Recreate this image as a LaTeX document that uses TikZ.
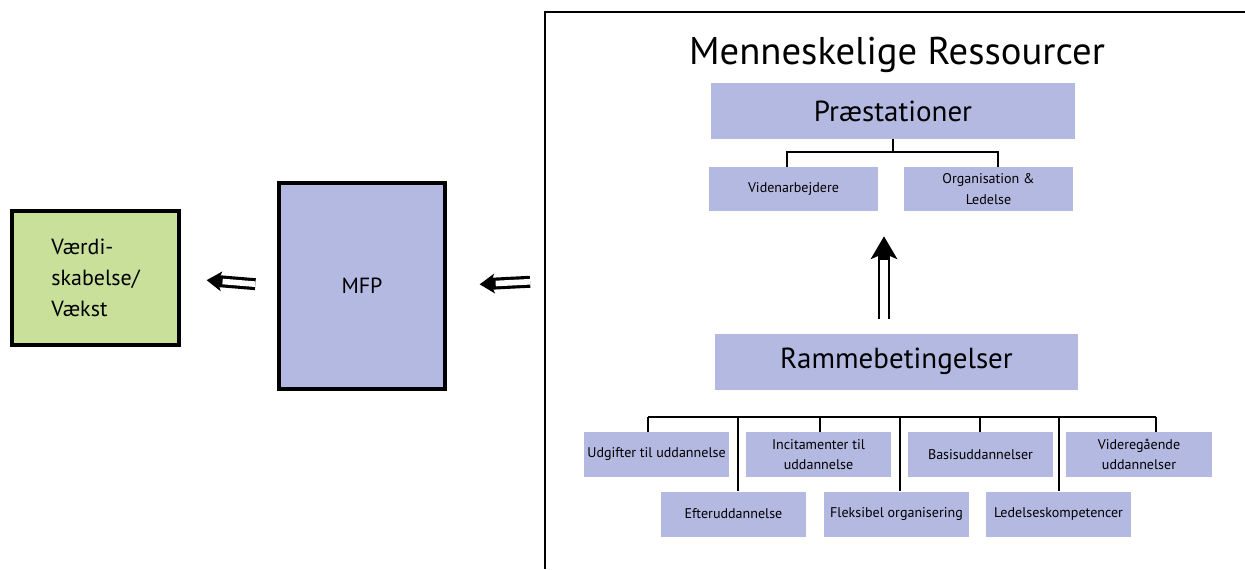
\documentclass[tikz,border=0pt]{standalone}
\usepackage{fontspec}
\setmainfont{PT Sans}
\usetikzlibrary{arrows.meta,positioning,calc}
\definecolor{boxblue}{RGB}{180,185,226}
\definecolor{boxgreen}{RGB}{201,224,155}

\begin{document}
\begin{tikzpicture}[
    x=0.02cm, y=-0.02cm,
    bigbox/.style={rectangle, draw=black, line width=2pt, minimum width=3.34cm, align=center, font=\fontsize{12.5}{17.5}\selectfont},
    topbox/.style={rectangle, fill=boxblue, minimum width=7.28cm, minimum height=1.12cm, font=\fontsize{16.5}{20}\selectfont},
    subbox/.style={rectangle, fill=boxblue, minimum width=3.38cm, minimum height=0.88cm, align=center, font=\fontsize{8}{11.5}\selectfont},
    leaf/.style={rectangle, fill=boxblue, minimum width=2.92cm, minimum height=0.9cm, inner sep=1pt, align=center, font=\fontsize{8}{11.5}\selectfont},
    tree/.style={line width=1.2pt},
    frame/.style={line width=1.4pt},
    % double arrows: a thick black line with tip, then a white core over it
    dblarrow/.style={line width=6.8pt, -{Stealth[length=0.3cm, width=0.4cm, inset=0.08cm, line width=0pt]}},
    dblcore/.style={white, line width=3.2pt},
    uparrow/.style={line width=6.8pt, -{Stealth[length=0.46cm, width=0.54cm, inset=0.12cm, line width=0pt]}},
    upcore/.style={white, line width=4.5pt}
]
    \useasboundingbox (0,0) rectangle (1245,569);

    % Left part
    \node[bigbox, fill=boxgreen, minimum width=3.34cm, minimum height=2.68cm, align=left] (vaekst) at (95.5,278) {Værdi-\\skabelse/\\Vækst};
    \node[bigbox, fill=boxblue, minimum width=3.32cm, minimum height=4.12cm] (mfp) at (362,286) {MFP};

    % Frame round the resources
    \draw[frame] (545,569) -- (545,12) -- (1245,12);
    \coordinate (frameL) at (545,281);

    \draw[dblarrow, shorten <=0.3cm, shorten >=0.66cm] (frameL) -- (mfp.east);
    \draw[dblcore, shorten <=0.3cm, shorten >=0.98cm] (frameL) -- (mfp.east);
    \draw[dblarrow, shorten <=0.44cm, shorten >=0.52cm] (mfp.west) -- (vaekst.east);
    \draw[dblcore, shorten <=0.44cm, shorten >=0.84cm] (mfp.west) -- (vaekst.east);

    % Menneskelige Ressourcer
    \node[font=\fontsize{22}{26}\selectfont] (title) at (897,55) {Menneskelige Ressourcer};
    \node[topbox] (praest) at (893,111) {Præstationer};
    \node[subbox] (viden) at (793.5,189) {Videnarbejdere};
    \node[subbox] (org) at (988.5,189) {Organisation \&\\Ledelse};

    \coordinate (pl) at (787,152);
    \coordinate (pr) at (998,152);
    \draw[tree] (praest.south) -- (praest.south |- pl);
    \draw[tree] (viden.north -| pl) -- (pl) -- (pr) -- (org.north -| pr);

    % Rammebetingelser
    \node[topbox] (ramme) at (896.5,361.5) {Rammebetingelser};
    \draw[uparrow, shorten <=0.28cm, shorten >=0.5cm] ([xshift=-0.25cm]ramme.north) -- ([xshift=-0.25cm]ramme.north |- viden.south);
    \draw[upcore, shorten <=0.28cm, shorten >=0.98cm] ([xshift=-0.25cm]ramme.north) -- ([xshift=-0.25cm]ramme.north |- viden.south);

    \node[leaf] (udg) at (656.5,454.5) {Udgifter til uddannelse};
    \node[leaf] (incit) at (818.5,454.5) {Incitamenter til\\uddannelse};
    \node[leaf] (basis) at (980.5,454.5) {Basisuddannelser};
    \node[leaf] (vid) at (1139,454.5) {Videregående\\uddannelser};
    \node[leaf] (efter) at (733.5,514) {Efteruddannelse};
    \node[leaf] (fleks) at (896.5,514) {Fleksibel organisering};
    \node[leaf] (ledel) at (1058.5,514) {Ledelseskompetencer};

    \draw[tree] (648,417) coordinate (barL) -- (1156,417) coordinate (barR);
    \foreach \n/\x in {udg/648, efter/738, incit/820, fleks/900, basis/980, ledel/1059, vid/1156}
        \draw[tree] (\x,417) coordinate (t\n) -- (t\n |- \n.north);
\end{tikzpicture}
\end{document}
